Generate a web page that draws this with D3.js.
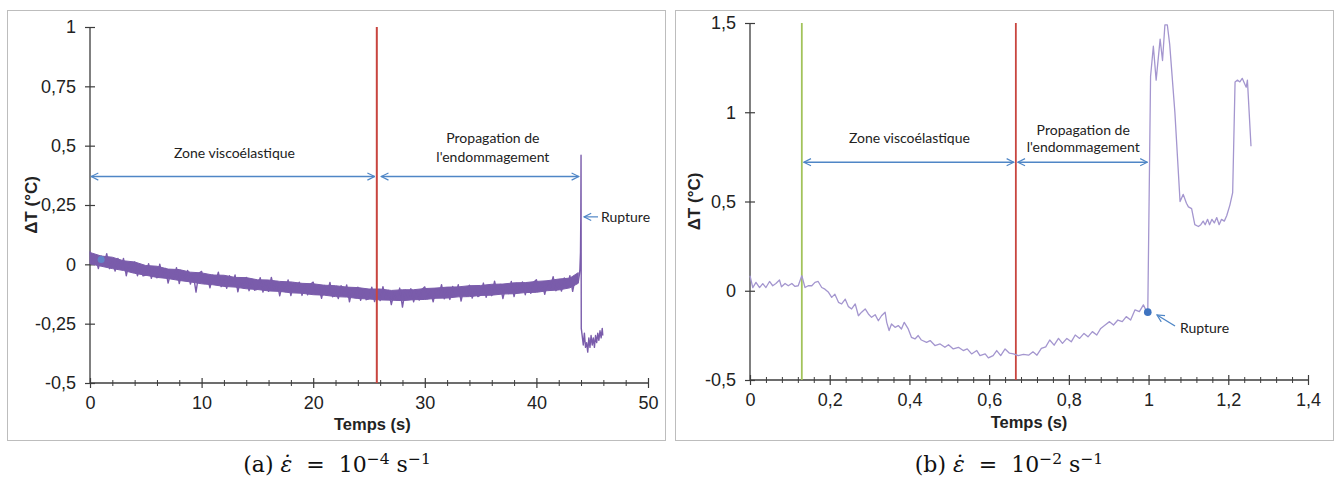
<!DOCTYPE html>
<html><head><meta charset="utf-8">
<script src="https://cdn.jsdelivr.net/npm/d3@7"></script>
<style>
html,body{margin:0;padding:0;background:#fff;}
svg{display:block;}
</style></head>
<body>
<svg id="chart" width="1342" height="477"></svg>
<script>
// ---------- DATA ----------
// (a) strain rate 1e-4 : sampled every 0.25 s from 0 to 43.75 s
const leftStep = 0.25;
const leftDT = [
 0.055,0.003,0.03,-0.018,0.035,0.003,0.045,-0.018,0.01,-0.028,0.025,-0.018,0.025,-0.048,0.005,-0.033,0.01,-0.048,-0.01,-0.048,
 -0.045,0.003,-0.059,-0.015,-0.057,0.001,-0.051,-0.017,-0.079,-0.031,-0.063,-0.014,-0.081,-0.028,-0.06,-0.026,-0.083,-0.04,-0.117,-0.038,
 -0.03,-0.081,-0.053,-0.099,-0.045,-0.076,-0.033,-0.094,-0.065,-0.101,-0.048,-0.089,-0.045,-0.116,-0.063,-0.099,-0.055,-0.111,-0.073,-0.109,
 -0.105,-0.056,-0.117,-0.073,-0.114,-0.055,-0.106,-0.072,-0.133,-0.084,-0.115,-0.066,-0.132,-0.078,-0.109,-0.075,-0.131,-0.087,-0.128,-0.084,
 -0.075,-0.126,-0.097,-0.143,-0.089,-0.12,-0.076,-0.137,-0.108,-0.144,-0.09,-0.131,-0.087,-0.158,-0.104,-0.14,-0.096,-0.152,-0.113,-0.149,
 -0.145,-0.096,-0.157,-0.113,-0.153,-0.094,-0.145,-0.11,-0.17,-0.12,-0.15,-0.1,-0.18,-0.109,-0.139,-0.103,-0.158,-0.112,-0.151,-0.106,
 -0.095,-0.144,-0.114,-0.158,-0.102,-0.131,-0.086,-0.145,-0.114,-0.148,-0.093,-0.132,-0.086,-0.155,-0.1,-0.134,-0.088,-0.142,-0.102,-0.136,
 -0.13,-0.079,-0.139,-0.093,-0.132,-0.071,-0.121,-0.085,-0.144,-0.093,-0.123,-0.072,-0.136,-0.08,-0.11,-0.074,-0.128,-0.082,-0.122,-0.076,
 -0.065,-0.114,-0.082,-0.126,-0.07,-0.098,-0.052,-0.111,-0.08,-0.113,-0.057,-0.095,-0.048,-0.114,-0.053,-0.075
];
// envelope of the dense noisy record (read every 1 s, last at 43.75 s)
const leftBandT = [0,1,2,3,4,5,6,7,8,9,10,11,12,13,14,15,16,17,18,19,20,21,22,23,24,25,26,27,28,29,30,31,32,33,34,35,36,37,38,39,40,41,42,43,43.75];
const leftBandHi = [0.05,0.035,0.03,0.015,0.01,-0.005,-0.008,-0.02,-0.022,-0.033,-0.036,-0.045,-0.046,-0.055,-0.056,-0.065,-0.066,-0.072,-0.074,-0.08,-0.082,-0.088,-0.09,-0.096,-0.098,-0.104,-0.104,-0.11,-0.107,-0.107,-0.102,-0.1,-0.096,-0.095,-0.09,-0.089,-0.084,-0.083,-0.078,-0.077,-0.072,-0.069,-0.062,-0.058,-0.035];
const leftBandLo = [0.002,-0.008,-0.018,-0.026,-0.038,-0.046,-0.055,-0.06,-0.068,-0.074,-0.082,-0.086,-0.093,-0.096,-0.103,-0.106,-0.112,-0.114,-0.12,-0.122,-0.128,-0.13,-0.136,-0.138,-0.144,-0.146,-0.15,-0.151,-0.153,-0.149,-0.148,-0.143,-0.142,-0.137,-0.136,-0.131,-0.13,-0.125,-0.124,-0.119,-0.118,-0.111,-0.108,-0.099,-0.08];
// rupture spike and post-rupture record (time s, ΔT °C)
const leftTailT  = [43.85,43.9,43.95,43.98,44.0,44.02,44.1,44.2,44.3,44.4,44.5,44.6,44.7,44.8,44.9,45.0,45.1,45.2,45.3,45.4,45.5,45.6,45.7,45.8,45.9,45.95];
const leftTailDT = [-0.045,-0.02,0.05,0.2,0.46,-0.27,-0.3,-0.34,-0.29,-0.35,-0.33,-0.37,-0.31,-0.35,-0.3,-0.34,-0.31,-0.35,-0.3,-0.33,-0.29,-0.32,-0.28,-0.31,-0.27,-0.3];
const leftMarkers = {red: 25.7};
const leftArrowsT = [[0.1, 25.5],[26.1, 43.8]];
const leftArrowDT = 0.37;
const leftDot = [1.0, 0.02];
const leftXTicks = [0,10,20,30,40,50];
const leftYTicks = [-0.5,-0.25,0,0.25,0.5,0.75,1];
const leftYLabels = ["-0,5","-0,25","0","0,25","0,5","0,75","1"];

// (b) strain rate 1e-2 (time s, ΔT °C)
const rightT = [0,0.007,0.015,0.024,0.032,0.04,0.049,0.057,0.065,0.074,0.079,0.088,0.096,0.105,0.113,0.121,0.13,0.138,0.146,0.155,0.163,0.171,0.18,0.188,0.197,0.205,0.213,0.222,0.23,0.239,0.247,0.255,0.264,0.272,0.28,0.289,0.297,0.305,0.314,0.322,0.33,0.339,0.343,0.349,0.355,0.364,0.372,0.38,0.387,0.397,0.405,0.414,0.422,0.43,0.443,0.452,0.464,0.477,0.489,0.498,0.51,0.523,0.535,0.545,0.556,0.569,0.577,0.59,0.598,0.61,0.619,0.629,0.64,0.651,0.661,0.673,0.686,0.699,0.71,0.72,0.731,0.742,0.752,0.763,0.774,0.784,0.795,0.806,0.816,0.827,0.838,0.848,0.859,0.87,0.88,0.891,0.902,0.912,0.923,0.934,0.944,0.955,0.966,0.977,0.987,0.993,0.998,
 1.005,1.012,1.019,1.029,1.035,1.041,1.047,1.053,1.066,1.079,1.087,1.095,1.1,1.108,1.116,1.125,1.131,1.137,1.142,1.148,1.153,1.159,1.165,1.171,1.177,1.183,1.19,1.196,1.204,1.211,1.217,1.223,1.229,1.235,1.241,1.245,1.248,1.257];
const rightDT = [0.084,0.018,0.047,0.018,0.04,0.018,0.052,0.028,0.041,0.06,0.022,0.041,0.028,0.041,0.024,0.028,0.084,0.018,0.028,0.028,0.047,0.052,0.018,0.009,-0.009,-0.037,-0.019,-0.065,-0.074,-0.047,-0.089,-0.102,-0.074,-0.14,-0.12,-0.102,-0.13,-0.149,-0.134,-0.168,-0.14,-0.12,-0.177,-0.223,-0.186,-0.205,-0.195,-0.214,-0.177,-0.214,-0.261,-0.27,-0.251,-0.276,-0.289,-0.279,-0.307,-0.298,-0.317,-0.302,-0.326,-0.317,-0.335,-0.326,-0.354,-0.335,-0.363,-0.354,-0.376,-0.363,-0.335,-0.363,-0.326,-0.35,-0.354,-0.363,-0.357,-0.361,-0.342,-0.361,-0.323,-0.314,-0.276,-0.305,-0.267,-0.295,-0.267,-0.286,-0.248,-0.267,-0.239,-0.258,-0.229,-0.248,-0.211,-0.192,-0.173,-0.192,-0.164,-0.173,-0.145,-0.164,-0.107,-0.117,-0.079,-0.107,-0.12,
 1.2,1.37,1.18,1.41,1.29,1.49,1.49,1.38,1.0,0.5,0.54,0.49,0.47,0.46,0.37,0.36,0.37,0.39,0.37,0.4,0.37,0.4,0.38,0.41,0.37,0.4,0.39,0.42,0.48,0.55,1.17,1.18,1.17,1.19,1.16,1.14,1.18,0.81];
const rightMarkers = {green: 0.13, red: 0.667};
const rightArrowsT = [[0.135, 0.662],[0.672, 0.997]];
const rightArrowDT = 0.72;
const rightRupture = [0.998, -0.12];
const rightXTicks = [0,0.2,0.4,0.6,0.8,1,1.2,1.4];
const rightXLabels = ["0","0,2","0,4","0,6","0,8","1","1,2","1,4"];
const rightYTicks = [-0.5,0,0.5,1,1.5];
const rightYLabels = ["-0,5","0","0,5","1","1,5"];

// ---------- DRAW ----------
const svg = d3.select("#chart");
const AX = "#3c3c3c", BLUE = "#4f86c6", RED = "#c8453f", GREEN = "#a2c35b", PURPLE = "#7a5cab";
const tickFont = "'Liberation Sans', Arial, sans-serif";
const annFont = "Lato, 'Open Sans', sans-serif";

const defs = svg.append("defs");
defs.append("marker").attr("id","ah").attr("viewBox","0 0 10 10").attr("refX",9).attr("refY",5)
  .attr("markerWidth",9).attr("markerHeight",9).attr("orient","auto-start-reverse").attr("markerUnits","userSpaceOnUse")
  .append("path").attr("d","M1,1 L9,5 L1,9").attr("fill","none").attr("stroke",BLUE).attr("stroke-width",1.3);

svg.append("rect").attr("x",7.5).attr("y",10.5).attr("width",658).attr("height",430).attr("fill","none").attr("stroke","#bdbdbd");
svg.append("rect").attr("x",675.5).attr("y",10.5).attr("width",658).attr("height",430).attr("fill","none").attr("stroke","#bdbdbd");

function drawAxes(g, x, y, xt, xl, xminor, yt, yl, yBottom){
  const xa = d3.axisBottom(x).tickValues(xminor).tickSize(3).tickFormat("");
  const gm = g.append("g").attr("transform",`translate(0,${yBottom})`).call(xa);
  gm.select(".domain").remove();
  gm.selectAll(".tick line").attr("y1",-3).attr("y2",3).attr("stroke",AX);
  const xb = d3.axisBottom(x).tickValues(xt).tickSize(5).tickPadding(8).tickFormat((d,i)=>xl[i]);
  const gx = g.append("g").attr("transform",`translate(0,${yBottom})`).call(xb);
  gx.select(".domain").attr("stroke",AX).attr("stroke-width",1.3).attr("d",`M${x.range()[0]},0H${x.range()[1]}`);
  gx.selectAll(".tick line").attr("y1",-5).attr("y2",5).attr("stroke",AX).attr("stroke-width",1.2);
  gx.selectAll(".tick text").attr("font-family",tickFont).style("font-size","18px").attr("fill","#222");
  const ya = d3.axisLeft(y).tickValues(yt).tickSize(5).tickPadding(9).tickFormat((d,i)=>yl[i]);
  const gy = g.append("g").attr("transform",`translate(${x.range()[0]},0)`).call(ya);
  gy.select(".domain").attr("stroke",AX).attr("stroke-width",1.3).attr("d",`M0,${y.range()[0]}V${y.range()[1]}`);
  gy.selectAll(".tick line").attr("x1",-5).attr("x2",5).attr("stroke",AX).attr("stroke-width",1.2);
  gy.selectAll(".tick text").attr("font-family",tickFont).style("font-size","18px").attr("fill","#222");
}

function arrows(g, x, y, spans, v){
  spans.forEach(s=>{
    g.append("line").attr("x1",x(s[0])).attr("x2",x(s[1])).attr("y1",y(v)).attr("y2",y(v))
     .attr("stroke",BLUE).attr("stroke-width",1.4)
     .attr("marker-start","url(#ah)").attr("marker-end","url(#ah)");
  });
}
function ann(g, px, py, txt, anchor="middle"){
  g.append("text").attr("x",px).attr("y",py).attr("text-anchor",anchor)
   .attr("font-family",annFont).attr("font-size",14).attr("fill","#222").text(txt);
}

// ---- panel (a)
{
  const g = svg.append("g");
  const x = d3.scaleLinear().domain([0,50]).range([90,648]);
  const y = d3.scaleLinear().domain([-0.5,1]).range([383,27]);
  const minor = d3.range(0,51,2).filter(d=>d%10!==0);
  drawAxes(g, x, y, leftXTicks, leftXTicks.map(String), minor, leftYTicks, leftYLabels, 383);

  const band = leftBandT.map((t,i)=>[t, leftBandLo[i], leftBandHi[i]]);
  g.append("path").datum(band).attr("fill",PURPLE).attr("stroke",PURPLE).attr("stroke-width",1)
   .attr("d", d3.area().x(d=>x(d[0])).y0(d=>y(d[1])).y1(d=>y(d[2])));
  const pts = leftDT.map((v,i)=>[i*leftStep, v]).concat(leftTailT.map((t,i)=>[t, leftTailDT[i]]));
  g.append("path").datum(pts).attr("fill","none").attr("stroke",PURPLE).attr("stroke-width",1.4)
   .attr("stroke-linejoin","round")
   .attr("d", d3.line().x(d=>x(d[0])).y(d=>y(d[1])));
  g.append("circle").attr("cx",x(leftDot[0])).attr("cy",y(leftDot[1])).attr("r",3.5).attr("fill","#5b8fd0").attr("opacity",0.8);

  g.append("line").attr("x1",x(leftMarkers.red)).attr("x2",x(leftMarkers.red)).attr("y1",y(1)).attr("y2",y(-0.5))
   .attr("stroke",RED).attr("stroke-width",2);

  arrows(g, x, y, leftArrowsT, leftArrowDT);
  ann(g, x(12.95), 158, "Zone viscoélastique");
  ann(g, x(36.1), 143, "Propagation de");
  ann(g, x(36.1), 162, "l'endommagement");
  g.append("line").attr("x1",598).attr("x2",584).attr("y1",y(0.2)).attr("y2",y(0.2))
   .attr("stroke",BLUE).attr("stroke-width",1.2).attr("marker-end","url(#ah)");
  ann(g, 601, y(0.2)+5, "Rupture", "start");

  g.append("text").attr("transform",`translate(37,${y(0.25)}) rotate(-90)`).attr("text-anchor","middle")
   .attr("font-family",tickFont).attr("font-weight","bold").attr("font-size",17).attr("fill","#222").text("ΔT (°C)");
  g.append("text").attr("x",x(25.3)).attr("y",430).attr("text-anchor","middle")
   .attr("font-family",tickFont).attr("font-weight","bold").attr("font-size",16.5).attr("fill","#222").text("Temps (s)");
}

// ---- panel (b)
{
  const g = svg.append("g");
  const x = d3.scaleLinear().domain([0,1.4]).range([750,1308]);
  const y = d3.scaleLinear().domain([-0.5,1.5]).range([380,23]);
  const minor = d3.range(0,71,2).filter(d=>d%10!==0).map(d=>d/50);
  drawAxes(g, x, y, rightXTicks, rightXLabels, minor, rightYTicks, rightYLabels, 380);

  g.append("line").attr("x1",x(rightMarkers.green)).attr("x2",x(rightMarkers.green)).attr("y1",y(1.5)).attr("y2",y(-0.5))
   .attr("stroke",GREEN).attr("stroke-width",1.8);
  g.append("line").attr("x1",x(rightMarkers.red)).attr("x2",x(rightMarkers.red)).attr("y1",y(1.5)).attr("y2",y(-0.5))
   .attr("stroke",RED).attr("stroke-width",1.8);

  const pts = rightT.map((t,i)=>[t, rightDT[i]]);
  g.append("path").datum(pts).attr("fill","none").attr("stroke","#a496cf").attr("stroke-width",1.3)
   .attr("stroke-linejoin","round")
   .attr("d", d3.line().x(d=>x(d[0])).y(d=>y(d[1])));

  arrows(g, x, y, rightArrowsT, rightArrowDT);
  ann(g, x(0.4), 143, "Zone viscoélastique");
  ann(g, x(0.836), 135, "Propagation de");
  ann(g, x(0.836), 152, "l'endommagement");

  g.append("circle").attr("cx",x(rightRupture[0])).attr("cy",y(rightRupture[1])).attr("r",3.8).attr("fill","#3f74c0");
  g.append("line").attr("x1",1175).attr("x2",1157).attr("y1",326).attr("y2",315)
   .attr("stroke",BLUE).attr("stroke-width",1.4).attr("marker-end","url(#ah)");
  ann(g, 1180, 333, "Rupture", "start");

  g.append("text").attr("transform",`translate(700,${y(0.5)}) rotate(-90)`).attr("text-anchor","middle")
   .attr("font-family",tickFont).attr("font-weight","bold").attr("font-size",17).attr("fill","#222").text("ΔT (°C)");
  g.append("text").attr("x",x(0.7)).attr("y",428).attr("text-anchor","middle")
   .attr("font-family",tickFont).attr("font-weight","bold").attr("font-size",16.5).attr("fill","#222").text("Temps (s)");
}

// captions
function caption(cx, letter, exp){
  const t = svg.append("text").attr("x",cx).attr("y",472).attr("text-anchor","middle")
    .attr("font-family","'DejaVu Serif','Liberation Serif',serif").attr("font-size",22).attr("fill","#111")
    .attr("xml:space","preserve").style("white-space","pre");
  t.append("tspan").text(`(${letter}) `);
  t.append("tspan").attr("font-style","italic").text("ε\u0307");
  t.append("tspan").text("  =  10");
  t.append("tspan").attr("dy",-8).attr("font-size",15.5).text(exp);
  t.append("tspan").attr("dy",8).text(" s");
  t.append("tspan").attr("dy",-8).attr("font-size",15.5).text("−1");
}
caption(337, "a", "−4");
caption(1009, "b", "−2");
</script>
</body></html>
